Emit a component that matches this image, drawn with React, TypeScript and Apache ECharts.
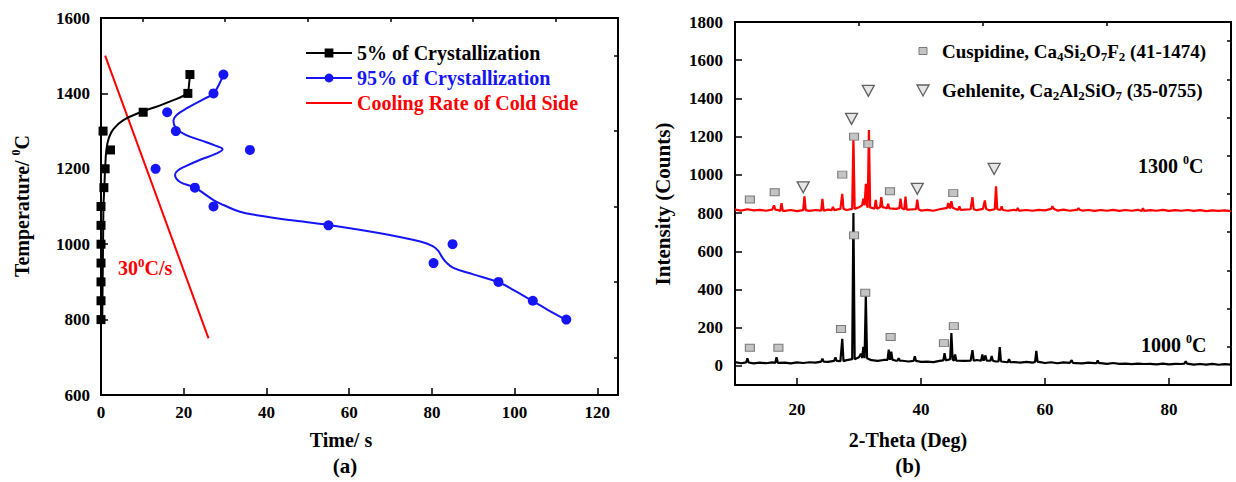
import React, { useEffect, useRef } from 'react';
import * as echarts from 'echarts';

const FONT = '"Liberation Serif", "Times New Roman", serif';

// ---------- Panel (a) ----------
const timeTicks = [0, 20, 40, 60, 80, 100, 120];
const timeMinorTicks = [10, 30, 50, 70, 90, 110];
const tempTicks = [600, 800, 1000, 1200, 1400, 1600];
const tempMinorTicks = [700, 900, 1100, 1300, 1500];

const crys5Points = [
  [0, 800], [0, 850], [0, 900], [0, 950], [0, 1000], [0, 1050], [0, 1100],
  [0.7, 1150], [1, 1200], [2.3, 1250], [0.5, 1300], [10.2, 1350], [21, 1400], [21.5, 1450],
];
const crys5Fit = [
  [0.3, 800], [0.4, 900], [0.5, 1000], [0.6, 1100], [0.8, 1150], [1, 1200], [1.3, 1250],
  [1.9, 1282], [3, 1305], [5.4, 1329], [10, 1352], [14, 1367], [17.5, 1382], [20, 1394],
  [21, 1405], [21.3, 1425], [21.5, 1450],
];
const crys95Points = [
  [29.6, 1450], [27.2, 1400], [16, 1350], [18.1, 1300], [36, 1250], [13.2, 1200], [22.7, 1150],
  [27.2, 1100], [55, 1050], [85, 1000], [80.4, 950], [96.1, 900], [104.4, 850], [112.5, 800],
];
const crys95Fit = [
  [29.6, 1450], [28.6, 1425], [27.2, 1400], [24.5, 1383], [21, 1362], [18.3, 1343], [17.5, 1328],
  [18.1, 1308], [20.5, 1290], [24, 1276], [27.5, 1262], [29.4, 1252], [27.8, 1240], [24, 1224],
  [20.5, 1207], [18.5, 1195], [17.9, 1184], [19.1, 1165], [22.7, 1150], [27.2, 1117], [29.6, 1104],
  [33.6, 1086], [37.7, 1077], [45.7, 1064], [55, 1051], [67.5, 1029], [77.2, 1007], [80.2, 995],
  [81.5, 983], [82.5, 965], [83.2, 955], [85.2, 937], [90, 920], [96.1, 899], [100, 877],
  [104.4, 849], [108, 826], [112.5, 799],
];
const coolingLine = [[1, 1500], [26, 750]];

// ---------- Panel (b) ----------
const thetaTicks = [20, 40, 60, 80];
const thetaMinorTicks = [30, 50, 70];
const countTicks = [0, 200, 400, 600, 800, 1000, 1200, 1400, 1600, 1800];
const countMinorTicks = [100, 300, 500, 700, 900, 1100, 1300, 1500, 1700];

const thetaBase = [
  10, 11, 12, 13, 14, 15, 16, 17, 18, 19, 20, 21, 22, 23, 24, 25, 26, 27, 28, 29,
  30, 31, 32, 33, 34, 35, 36, 37, 38, 39, 40, 41, 42, 43, 44, 45, 46, 47, 48, 49,
  50, 51, 52, 53, 54, 55, 56, 57, 58, 59, 60, 61, 62, 63, 64, 65, 66, 67, 68, 69,
  70, 71, 72, 73, 74, 75, 76, 77, 78, 79, 80, 81, 82, 83, 84, 85, 86, 87, 88, 89, 90,
];
const base1300 = [
  818, 813, 820, 814, 817, 812, 818, 815, 811, 816, 810, 815, 811, 816, 813, 818, 815, 822, 816, 822,
  830, 840, 828, 823, 830, 824, 822, 826, 818, 820, 813, 817, 812, 820, 826, 828, 816, 818, 820, 815,
  822, 814, 820, 816, 812, 817, 813, 816, 812, 817, 814, 822, 813, 818, 812, 817, 813, 816, 811, 816,
  812, 817, 811, 816, 812, 817, 811, 815, 812, 817, 811, 815, 812, 816, 811, 815, 810, 814, 811, 814, 810,
];
const peaks1300 = [
  [16.3, 840], [17.5, 852], [21.2, 888], [24.1, 874], [25.8, 832], [27.3, 900], [29.1, 1195],
  [30.7, 875], [31.1, 953], [31.6, 1235], [32.7, 869], [33.6, 883], [34.7, 848], [36.7, 875],
  [37.5, 886], [39.4, 870], [44.4, 852], [44.9, 862], [46.2, 835], [48.3, 883], [50.3, 866],
  [52.1, 940], [53.0, 835], [55.6, 826], [61.2, 836], [65.4, 826], [75.8, 826],
];
const base1000 = [
  20, 14, 18, 13, 17, 14, 18, 16, 17, 13, 18, 15, 19, 17, 22, 21, 26, 25, 30, 35,
  45, 40, 30, 26, 31, 32, 27, 27, 23, 26, 21, 22, 20, 26, 29, 35, 27, 26, 27, 31,
  27, 27, 24, 23, 19, 20, 17, 21, 17, 21, 15, 19, 14, 18, 16, 15, 13, 17, 15, 14,
  11, 15, 11, 12, 9, 12, 10, 11, 8, 12, 8, 11, 10, 12, 7, 10, 7, 11, 6, 9, 7,
];
const peaks1000 = [
  [12.0, 40], [16.7, 45], [24.1, 38], [26.2, 45], [27.3, 142], [29.1, 800], [30.3, 64],
  [30.7, 100], [31.1, 370], [34.8, 85], [35.2, 75], [36.4, 40], [39.0, 50], [43.8, 67],
  [44.9, 172], [45.5, 60], [48.3, 82], [49.9, 60], [50.4, 55], [51.4, 52], [52.7, 98],
  [54.2, 35], [58.6, 78], [64.3, 30], [68.5, 28], [82.7, 25],
];
const cuspidineMarks = [
  [12.4, 871], [16.4, 909], [27.3, 1001], [29.2, 1200], [31.5, 1162], [35.0, 914], [45.2, 904],
  [12.4, 95], [17.0, 95], [27.1, 193], [29.2, 683], [31.0, 383], [35.1, 151], [43.7, 119], [45.3, 208],
];
const gehleniteMarks = [
  [21.0, 935], [28.8, 1293], [31.5, 1440], [39.4, 927], [51.8, 1031],
];

function buildTrace(base: number[], peaks: number[][]) {
  const hw = 0.2;
  const pts: number[][] = [];
  thetaBase.forEach((t, i) => {
    if (!peaks.some((p) => Math.abs(p[0] - t) < hw + 0.05)) pts.push([t, base[i]]);
  });
  peaks.forEach(([t, h]) => {
    const b = base[Math.round(t) - thetaBase[0]];
    pts.push([t - hw, b], [t, h], [t + hw, b]);
  });
  pts.sort((a, b) => a[0] - b[0]);
  return pts;
}

const labelStyle = { fontFamily: FONT, fontWeight: 'bold', fontSize: 17, color: '#000' };

function mainAxis(grid: number, min: number, max: number, ticks: number[], margin: number) {
  return {
    type: 'value', gridIndex: grid, min, max,
    axisLine: { show: true, onZero: false, lineStyle: { color: '#000', width: 2 } },
    axisTick: { show: true, inside: true, length: 7, customValues: ticks, lineStyle: { color: '#000', width: 1.5 } },
    axisLabel: { ...labelStyle, margin, customValues: ticks, formatter: (v: number) => String(v) },
    splitLine: { show: false },
  };
}
function minorAxis(grid: number, min: number, max: number, ticks: number[]) {
  return {
    type: 'value', gridIndex: grid, min, max,
    axisLine: { show: false, onZero: false },
    axisTick: { show: true, inside: true, length: 4, customValues: ticks, lineStyle: { color: '#000', width: 1.5 } },
    axisLabel: { show: false },
    splitLine: { show: false },
  };
}

const richSup = {
  sup: { fontFamily: FONT, fontWeight: 'bold', fontSize: 12, verticalAlign: 'top', lineHeight: 24 },
};
const richSub = {
  s: { fontFamily: FONT, fontWeight: 'bold', fontSize: 13, verticalAlign: 'bottom', lineHeight: 24 },
};

export default function App() {
  const ref = useRef<HTMLDivElement>(null);
  useEffect(() => {
    document.body.style.margin = '0';
    const chart = echarts.init(ref.current!, null, { renderer: 'svg' });
    const textStyle = (size: number, color = '#000') => ({
      fontFamily: FONT, fontWeight: 'bold', fontSize: size, fill: color,
    });
    chart.setOption({
      animation: false,
      backgroundColor: '#fff',
      grid: [
        { left: 101, top: 18, width: 517, height: 377, show: true, borderColor: '#000', borderWidth: 2 },
        { left: 735, top: 22, width: 496, height: 363, show: true, borderColor: '#000', borderWidth: 2 },
      ],
      xAxis: [
        mainAxis(0, 0, 125, timeTicks, 9),
        minorAxis(0, 0, 125, timeMinorTicks),
        mainAxis(1, 10, 90, thetaTicks, 16),
        minorAxis(1, 10, 90, thetaMinorTicks),
      ],
      yAxis: [
        mainAxis(0, 600, 1600, tempTicks, 11),
        minorAxis(0, 600, 1600, tempMinorTicks),
        mainAxis(1, -100, 1800, countTicks, 12),
        minorAxis(1, -100, 1800, countMinorTicks),
      ],
      legend: [
        {
          orient: 'vertical', left: 300, top: 38, itemWidth: 46, itemHeight: 11, itemGap: 5,
          textStyle: { fontFamily: FONT, fontWeight: 'bold', fontSize: 20, lineHeight: 20 },
          data: [
            { name: '5% of Crystallization', textStyle: { color: '#000' } },
            { name: '95% of Crystallization', textStyle: { color: '#1515f5' } },
            { name: 'Cooling Rate of Cold Side', textStyle: { color: '#ff0000' }, itemStyle: { opacity: 0 } },
          ],
        },
      ],
      series: [
        {
          name: '5% of Crystallization', type: 'line', data: crys5Fit, smooth: 0.4,
          xAxisIndex: 0, yAxisIndex: 0, symbol: 'rect', symbolSize: 9, showSymbol: false,
          lineStyle: { color: '#000', width: 2 }, itemStyle: { color: '#000' }, z: 3,
        },
        {
          name: '5% of Crystallization', type: 'scatter', data: crys5Points,
          xAxisIndex: 0, yAxisIndex: 0, symbol: 'rect', symbolSize: 9, itemStyle: { color: '#000', opacity: 1 }, z: 4,
        },
        {
          name: '95% of Crystallization', type: 'line', data: crys95Fit, smooth: 0.4,
          xAxisIndex: 0, yAxisIndex: 0, symbol: 'circle', symbolSize: 10, showSymbol: false,
          lineStyle: { color: '#1515f5', width: 2 }, itemStyle: { color: '#1515f5' }, z: 3,
        },
        {
          name: '95% of Crystallization', type: 'scatter', data: crys95Points,
          xAxisIndex: 0, yAxisIndex: 0, symbol: 'circle', symbolSize: 10, itemStyle: { color: '#1515f5', opacity: 1 }, z: 4,
        },
        {
          name: 'Cooling Rate of Cold Side', type: 'line', data: coolingLine,
          xAxisIndex: 0, yAxisIndex: 0, symbol: 'none',
          lineStyle: { color: '#ff0000', width: 2 }, itemStyle: { color: '#ff0000' }, z: 2,
        },
        {
          name: '1000 C', type: 'line', data: buildTrace(base1000, peaks1000),
          xAxisIndex: 2, yAxisIndex: 2, symbol: 'none',
          lineStyle: { color: '#000', width: 2.2 }, z: 2,
        },
        {
          name: '1300 C', type: 'line', data: buildTrace(base1300, peaks1300),
          xAxisIndex: 2, yAxisIndex: 2, symbol: 'none',
          lineStyle: { color: '#ff0000', width: 2.2 }, z: 3,
        },
        {
          name: 'Cuspidine', type: 'scatter', data: cuspidineMarks,
          xAxisIndex: 2, yAxisIndex: 2, symbol: 'rect', symbolSize: [9, 7],
          itemStyle: { color: '#c4c4c4', borderColor: '#7a7a7a', borderWidth: 1, opacity: 1 }, z: 5,
        },
        {
          name: 'Gehlenite', type: 'scatter', data: gehleniteMarks,
          xAxisIndex: 2, yAxisIndex: 2, symbol: 'triangle', symbolRotate: 180, symbolSize: [12, 11],
          itemStyle: { color: '#e6e6e6', borderColor: '#606060', borderWidth: 1.3, opacity: 1 }, z: 5,
        },
      ],
      graphic: [
        {
          type: 'text', x: 22, y: 206, rotation: Math.PI / 2,
          style: { ...textStyle(20), text: 'Temperature/ {sup|0}C', align: 'center', verticalAlign: 'middle', rich: richSup },
        },
        { type: 'text', x: 341, y: 440, style: { ...textStyle(20), text: 'Time/ s', align: 'center', verticalAlign: 'middle' } },
        { type: 'text', x: 345, y: 466, style: { ...textStyle(21), text: '(a)', align: 'center', verticalAlign: 'middle' } },
        {
          type: 'text', x: 118, y: 268,
          style: { ...textStyle(20, '#ff0000'), text: '30{sup|0}C/s', align: 'left', verticalAlign: 'middle',
            rich: { sup: { ...richSup.sup, fill: '#ff0000', color: '#ff0000', fontSize: 13 } } },
        },
        {
          type: 'text', x: 663, y: 204, rotation: Math.PI / 2,
          style: { ...textStyle(21), text: 'Intensity (Counts)', align: 'center', verticalAlign: 'middle' },
        },
        { type: 'text', x: 908, y: 440, style: { ...textStyle(20), text: '2-Theta (Deg)', align: 'center', verticalAlign: 'middle' } },
        { type: 'text', x: 908, y: 466, style: { ...textStyle(21), text: '(b)', align: 'center', verticalAlign: 'middle' } },
        { type: 'text', x: 1138, y: 166, style: { ...textStyle(20), text: '1300 {sup|0}C', align: 'left', verticalAlign: 'middle', rich: richSup } },
        { type: 'text', x: 1141, y: 345, style: { ...textStyle(20), text: '1000 {sup|0}C', align: 'left', verticalAlign: 'middle', rich: richSup } },
        { type: 'rect', shape: { x: 919, y: 47.5, width: 8, height: 7 }, style: { fill: '#c4c4c4', stroke: '#7a7a7a', lineWidth: 1 } },
        { type: 'polygon', shape: { points: [[917, 85], [929, 85], [923, 96]] }, style: { fill: '#e6e6e6', stroke: '#606060', lineWidth: 1.3 } },
        {
          type: 'text', x: 942, y: 51,
          style: { ...textStyle(19), text: 'Cuspidine, Ca{s|4}Si{s|2}O{s|7}F{s|2} (41-1474)', align: 'left', verticalAlign: 'middle', rich: richSub },
        },
        {
          type: 'text', x: 942, y: 90,
          style: { ...textStyle(19), text: 'Gehlenite, Ca{s|2}Al{s|2}SiO{s|7} (35-0755)', align: 'left', verticalAlign: 'middle', rich: richSub },
        },
      ],
    });
    return () => chart.dispose();
  }, []);
  return <div ref={ref} style={{ width: 1236, height: 482 }} />;
}
